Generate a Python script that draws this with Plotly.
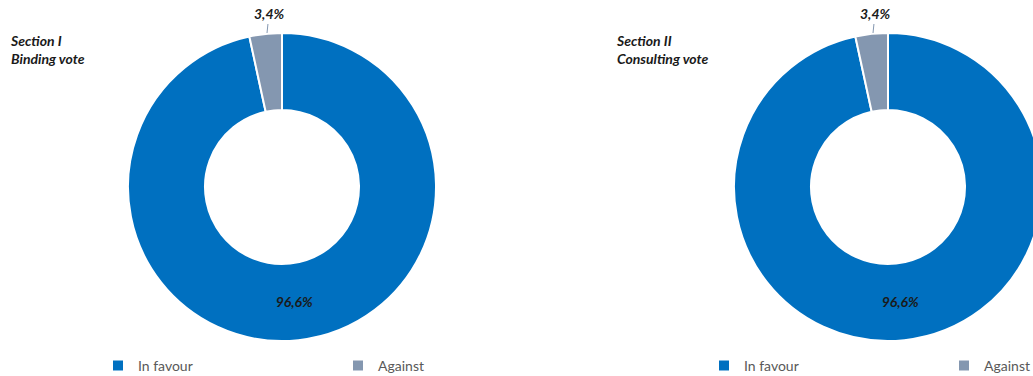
import plotly.graph_objects as go

labels = ["In favour", "Against"]
section1_values = [96.6, 3.4]
section2_values = [96.6, 3.4]
section1_text = ["96,6%", "3,4%"]
section2_text = ["96,6%", "3,4%"]
titles = ["Section I<br>Binding vote", "Section II<br>Consulting vote"]
colors = ["#0070C0", "#8497B0"]

W, H = 1045, 376
FONT = "Lato"
R = 154
centers = [(282, 187), (888, 187)]

def dom(cx, cy, r):
    return dict(x=[(cx - r) / W, (cx + r) / W], y=[1 - (cy + r) / H, 1 - (cy - r) / H])

lblfont = dict(family=FONT, size=14, color="#1a1a1a", weight="bold", style="italic")

fig = go.Figure()
# pie legend entries are shared by label, so the second donut gets labels with a
# trailing space so that its own legend shows them too
for labs, vals, txt, (cx, cy), leg, title, tx in [
    (labels, section1_values, section1_text, centers[0], "legend", titles[0], 8),
    ([l + " " for l in labels], section2_values, section2_text, centers[1], "legend2", titles[1], 614),
]:
    fig.add_trace(go.Pie(
        labels=labs, values=vals, text=[txt[0], ""],
        textinfo="text", textposition=["inside", "none"],
        insidetextorientation="horizontal",
        hole=0.5, sort=False, direction="clockwise", rotation=0,
        marker=dict(colors=colors, line=dict(color="white", width=2)),
        textfont=lblfont,
        domain=dom(cx, cy, R), legend=leg, showlegend=True,
    ))
    # outside label for the small slice, with a short leader line
    fig.add_annotation(text=txt[1], x=(cx - 15) / W, y=1 - (cy - R) / H,
                       xref="paper", yref="paper", showarrow=True, arrowhead=0,
                       arrowwidth=1, arrowcolor="#8497B0", ax=2, ay=-19,
                       standoff=0, font=lblfont)
    fig.add_annotation(text=title, x=tx / W, y=1 - 30 / H, xref="paper", yref="paper",
                       xanchor="left", yanchor="top", align="left", showarrow=False,
                       font=lblfont)

legfont = dict(family=FONT, size=14, color="#595959")
common = dict(orientation="h", yanchor="middle", y=1 - 366 / H, xanchor="left",
              entrywidth=195, entrywidthmode="pixels", itemwidth=30, font=legfont,
              bgcolor="rgba(0,0,0,0)", traceorder="normal")
fig.update_layout(
    width=W, height=H, margin=dict(l=0, r=0, t=0, b=0, autoexpand=False),
    paper_bgcolor="white", plot_bgcolor="white",
    legend=dict(x=98 / W, **common),
    legend2=dict(x=704 / W, **common),
)

fig.write_html("out.html", post_script="document.body.style.overflow='hidden';document.documentElement.style.overflow='hidden';")
